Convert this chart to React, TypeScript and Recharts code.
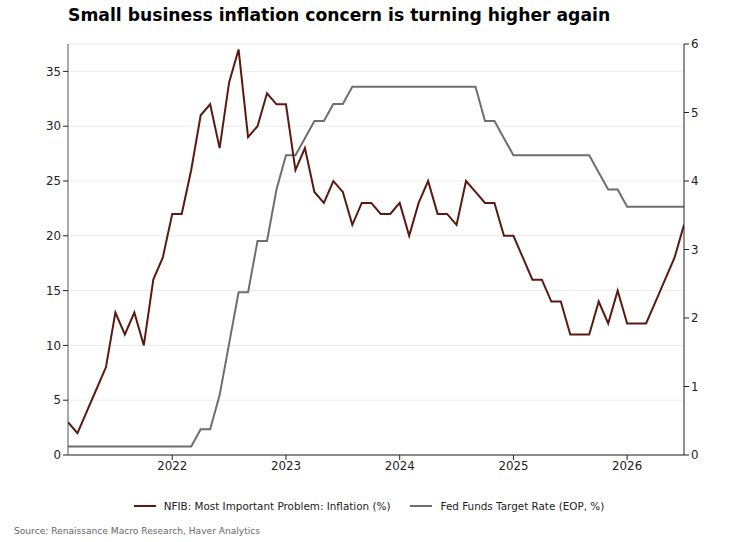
import { ComposedChart, Line, XAxis, YAxis, CartesianGrid } from "recharts";

// ─── data (monthly, month-end, Jan 2021 – Jun 2026) ──────────────────────────

const startYear = 2021;

const nfibInflation = [
  // 2021
  3, 2, 4, 6, 8, 13, 11, 13, 10, 16, 18, 22,
  // 2022
  22, 26, 31, 32, 28, 34, 37, 29, 30, 33, 32, 32,
  // 2023
  26, 28, 24, 23, 25, 24, 21, 23, 23, 22, 22, 23,
  // 2024
  20, 23, 25, 22, 22, 21, 25, 24, 23, 23, 20, 20,
  // 2025
  18, 16, 16, 14, 14, 11, 11, 11, 14, 12, 15, 12,
  // 2026
  12, 12, 14, 16, 18, 21,
];

const fedFunds = [
  // 2021
  0.125, 0.125, 0.125, 0.125, 0.125, 0.125, 0.125, 0.125, 0.125, 0.125, 0.125, 0.125,
  // 2022
  0.125, 0.125, 0.375, 0.375, 0.875, 1.625, 2.375, 2.375, 3.125, 3.125, 3.875, 4.375,
  // 2023
  4.375, 4.625, 4.875, 4.875, 5.125, 5.125, 5.375, 5.375, 5.375, 5.375, 5.375, 5.375,
  // 2024
  5.375, 5.375, 5.375, 5.375, 5.375, 5.375, 5.375, 5.375, 4.875, 4.875, 4.625, 4.375,
  // 2025
  4.375, 4.375, 4.375, 4.375, 4.375, 4.375, 4.375, 4.375, 4.125, 3.875, 3.875, 3.625,
  // 2026
  3.625, 3.625, 3.625, 3.625, 3.625, 3.625,
];

const yearTicks = [2022, 2023, 2024, 2025, 2026];
const leftTicks = [0, 5, 10, 15, 20, 25, 30, 35];
const rightTicks = [0, 1, 2, 3, 4, 5, 6];

const data = nfibInflation.map((v, i) => ({
  t: startYear + (i + 1) / 12,
  nfib: v,
  fed: fedFunds[i],
}));

// ─── styles ──────────────────────────────────────────────────────────────────

const FONT = "'DejaVu Sans', sans-serif";
const BROWN = "#5a1a10";
const GREY = "#6e6e6e";
const tickStyle = { fill: "#222", fontSize: 11.8, fontFamily: FONT };

export default function App() {
  return (
    <div
      style={{
        position: "absolute",
        left: 0,
        top: 0,
        width: 738,
        height: 542,
        background: "#fff",
        fontFamily: FONT,
      }}
    >
      <div
        style={{
          position: "absolute",
          left: 68,
          top: 5,
          fontSize: 17.2,
          fontWeight: "bold",
          color: "#000",
          whiteSpace: "nowrap",
        }}
      >
        Small business inflation concern is turning higher again
      </div>

      <ComposedChart
        width={738}
        height={542}
        data={data}
        margin={{ top: 44, right: 4, bottom: 57, left: 8 }}
      >
        <CartesianGrid
          yAxisId="left"
          vertical={false}
          stroke="#ececec"
          strokeWidth={1}
        />
        <XAxis
          dataKey="t"
          type="number"
          domain={[startYear + 1 / 12, 2026.5]}
          ticks={yearTicks}
          tickFormatter={(v) => String(Math.round(v))}
          tick={tickStyle}
          tickLine={{ stroke: "#222" }}
          tickSize={5}
          axisLine={{ stroke: "#222" }}
          height={30}
          allowDataOverflow
        />
        <YAxis
          yAxisId="left"
          domain={[0, 37.5]}
          ticks={leftTicks}
          tick={tickStyle}
          tickLine={{ stroke: "#222" }}
          tickSize={5}
          axisLine={{ stroke: "#555" }}
          width={60}
          allowDataOverflow
        />
        <YAxis
          yAxisId="right"
          orientation="right"
          domain={[0, 6]}
          ticks={rightTicks}
          tick={tickStyle}
          tickLine={{ stroke: "#222" }}
          tickSize={5}
          axisLine={{ stroke: "#222" }}
          width={50}
        />
        <Line
          yAxisId="right"
          dataKey="fed"
          type="linear"
          stroke={GREY}
          strokeWidth={2}
          dot={false}
          isAnimationActive={false}
        />
        <Line
          yAxisId="left"
          dataKey="nfib"
          type="linear"
          stroke={BROWN}
          strokeWidth={2}
          dot={false}
          isAnimationActive={false}
        />
      </ComposedChart>

      {/* legend */}
      <div
        style={{
          position: "absolute",
          top: 500,
          left: 0,
          width: 738,
          display: "flex",
          justifyContent: "center",
          gap: 20,
          fontSize: 10.4,
          color: "#222",
        }}
      >
        <LegendItem color={BROWN} label="NFIB: Most Important Problem: Inflation (%)" />
        <LegendItem color={GREY} label="Fed Funds Target Rate (EOP, %)" />
      </div>

      {/* source */}
      <div
        style={{
          position: "absolute",
          left: 14,
          top: 526,
          fontSize: 9.1,
          color: "#666",
        }}
      >
        Source: Renaissance Macro Research, Haver Analytics
      </div>
    </div>
  );
}

function LegendItem({ color, label }: { color: string; label: string }) {
  return (
    <div style={{ display: "flex", alignItems: "center", gap: 8 }}>
      <span style={{ width: 22, height: 2, background: color, display: "inline-block" }} />
      <span>{label}</span>
    </div>
  );
}
